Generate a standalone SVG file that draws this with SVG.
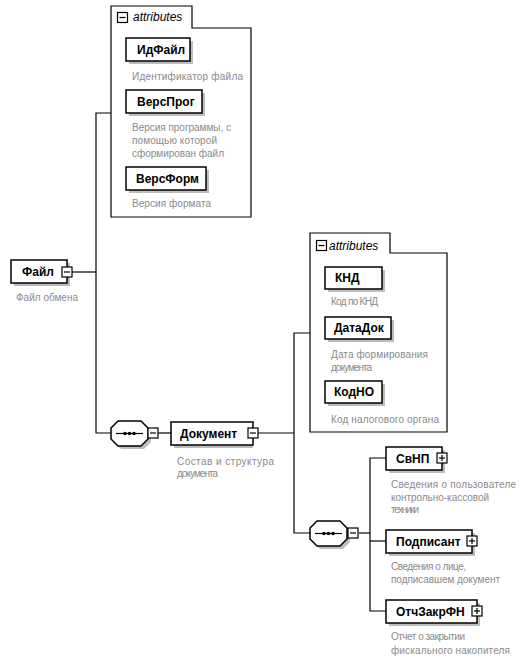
<svg xmlns="http://www.w3.org/2000/svg" width="529" height="659" viewBox="0 0 529 659">
<style>
.bg{fill:#fff}
.box{fill:#fff;stroke:#000;stroke-width:1.5}
.sh{fill:#bdbdbd}
.cont{fill:#fff;stroke:#000;stroke-width:1.2}
.ln{fill:none;stroke:#000;stroke-width:1.2}
.ic{fill:#fff;stroke:#000;stroke-width:1.2}
.t{font-family:"Liberation Sans",Arial,sans-serif;font-size:12px;font-weight:bold;fill:#000}
.it{font-family:"Liberation Sans",Arial,sans-serif;font-size:12px;font-style:italic;fill:#000}
.d{font-family:"Liberation Sans",Arial,sans-serif;font-size:10px;fill:#8a8a8a}
</style>
<defs>
<g id="minus"><rect class="ic" x="-5" y="-5" width="10" height="10"/><line class="ln" x1="-3" y1="0" x2="3" y2="0"/></g>
<g id="plus"><rect class="ic" x="-5" y="-5" width="10" height="10"/><line class="ln" x1="-3" y1="0" x2="3" y2="0"/><line class="ln" x1="0" y1="-3" x2="0" y2="3"/></g>
<g id="seq">
<polygon class="sh" points="10,3 33,3 40,10 40,21 33,28 10,28 3,21 3,10"/>
<polygon class="box" points="7,0 30,0 37,7 37,18 30,25 7,25 0,18 0,7"/>
<line class="ln" x1="5" y1="12.5" x2="32" y2="12.5"/>
<circle cx="14" cy="12.5" r="1.8"/><circle cx="18.5" cy="12.5" r="1.8"/><circle cx="23" cy="12.5" r="1.8"/>
</g>
</defs>
<rect class="bg" x="0" y="0" width="529" height="659"/>

<g id="connectors">
<polyline class="ln" points="72,272 96,272"/>
<polyline class="ln" points="111,113 96,113 96,433 111,433"/>
<polyline class="ln" points="158,433 171,433"/>
<polyline class="ln" points="258,433 294,433"/>
<polyline class="ln" points="310,333 294,333 294,533 310,533"/>
<polyline class="ln" points="359,533 370,533"/>
<polyline class="ln" points="386,458 370,458 370,611 386,611"/>
<polyline class="ln" points="370,541 386,541"/>
</g>

<g id="attributes1">
<path class="cont" d="M111,6 H192 V28 H251 V217 H111 Z"/>
<use href="#minus" x="122.5" y="17.5"/>
<text class="it" x="133" y="21">attributes</text>
</g>

<g id="ИдФайл">
<rect class="sh" x="129" y="41" width="64" height="23"/>
<rect class="box" x="126" y="38" width="64" height="23"/>
<text class="t" x="137" y="54">ИдФайл</text>
<text class="d" x="132" y="80" textLength="111">Идентификатор файла</text>
</g>
<g id="ВерсПрог">
<rect class="sh" x="129" y="93" width="76" height="23"/>
<rect class="box" x="126" y="90" width="76" height="23"/>
<text class="t" x="137" y="106">ВерсПрог</text>
<text class="d" x="132" y="131" textLength="99">Версия программы, с</text>
<text class="d" x="132" y="144" textLength="85">помощью которой</text>
<text class="d" x="132" y="157" textLength="92">сформирован файл</text>
</g>
<g id="ВерсФорм">
<rect class="sh" x="129" y="170" width="80" height="23"/>
<rect class="box" x="126" y="167" width="80" height="23"/>
<text class="t" x="136" y="183">ВерсФорм</text>
<text class="d" x="132" y="207" textLength="79">Версия формата</text>
</g>

<g id="Файл">
<rect class="sh" x="14" y="263" width="56" height="23"/>
<rect class="box" x="11" y="260" width="56" height="23"/>
<text class="t" x="22" y="276">Файл</text>
<use href="#minus" x="67" y="272"/>
<text class="d" x="16" y="301" textLength="62">Файл обмена</text>
</g>

<g id="seq1">
<use href="#seq" x="111" y="421"/>
<use href="#minus" x="153" y="433"/>
</g>

<g id="Документ">
<rect class="sh" x="174" y="425" width="79" height="23"/>
<rect class="box" x="171" y="422" width="82" height="23"/>
<text class="t" x="180" y="438">Документ</text>
<use href="#minus" x="253" y="433"/>
<text class="d" x="177" y="465" textLength="97">Состав и структура</text>
<text class="d" x="177" y="477" textLength="41">документа</text>
</g>

<g id="attributes2">
<path class="cont" d="M310,233 H390 V253 H447 V432 H310 Z"/>
<use href="#minus" x="321.5" y="245.5"/>
<text class="it" x="329" y="250">attributes</text>
</g>

<g id="КНД">
<rect class="sh" x="328" y="270" width="57" height="22"/>
<rect class="box" x="325" y="267" width="57" height="22"/>
<text class="t" x="335" y="282">КНД</text>
<text class="d" x="331" y="305" textLength="47">Код по КНД</text>
</g>
<g id="ДатаДок">
<rect class="sh" x="328" y="320" width="66" height="22"/>
<rect class="box" x="325" y="317" width="66" height="22"/>
<text class="t" x="334" y="332">ДатаДок</text>
<text class="d" x="331" y="358" textLength="97">Дата формирования</text>
<text class="d" x="331" y="371" textLength="41">документа</text>
</g>
<g id="КодНО">
<rect class="sh" x="328" y="384" width="57" height="22"/>
<rect class="box" x="325" y="381" width="57" height="22"/>
<text class="t" x="334" y="396">КодНО</text>
<text class="d" x="331" y="423" textLength="108">Код налогового органа</text>
</g>

<g id="seq2">
<use href="#seq" x="310" y="521"/>
<use href="#minus" x="353" y="533"/>
</g>

<g id="СвНП">
<rect class="sh" x="389" y="450" width="56" height="23"/>
<rect class="box" x="386" y="447" width="56" height="23"/>
<text class="t" x="396" y="463">СвНП</text>
<use href="#plus" x="442" y="458"/>
<text class="d" x="391" y="488" textLength="125">Сведения о пользователе</text>
<text class="d" x="391" y="501" textLength="98">контрольно-кассовой</text>
<text class="d" x="391" y="513" textLength="28">техники</text>
</g>
<g id="Подписант">
<rect class="sh" x="389" y="533" width="86" height="23"/>
<rect class="box" x="386" y="530" width="86" height="23"/>
<text class="t" x="396" y="546">Подписант</text>
<use href="#plus" x="472" y="541"/>
<text class="d" x="391" y="570" textLength="75">Сведения о лице,</text>
<text class="d" x="391" y="583" textLength="109">подписавшем документ</text>
</g>
<g id="ОтчЗакрФН">
<rect class="sh" x="389" y="603" width="91" height="23"/>
<rect class="box" x="386" y="600" width="91" height="23"/>
<text class="t" x="396" y="616">ОтчЗакрФН</text>
<use href="#plus" x="477" y="611"/>
<text class="d" x="391" y="640" textLength="74">Отчет о закрытии</text>
<text class="d" x="391" y="654" textLength="119">фискального накопителя</text>
</g>
</svg>
